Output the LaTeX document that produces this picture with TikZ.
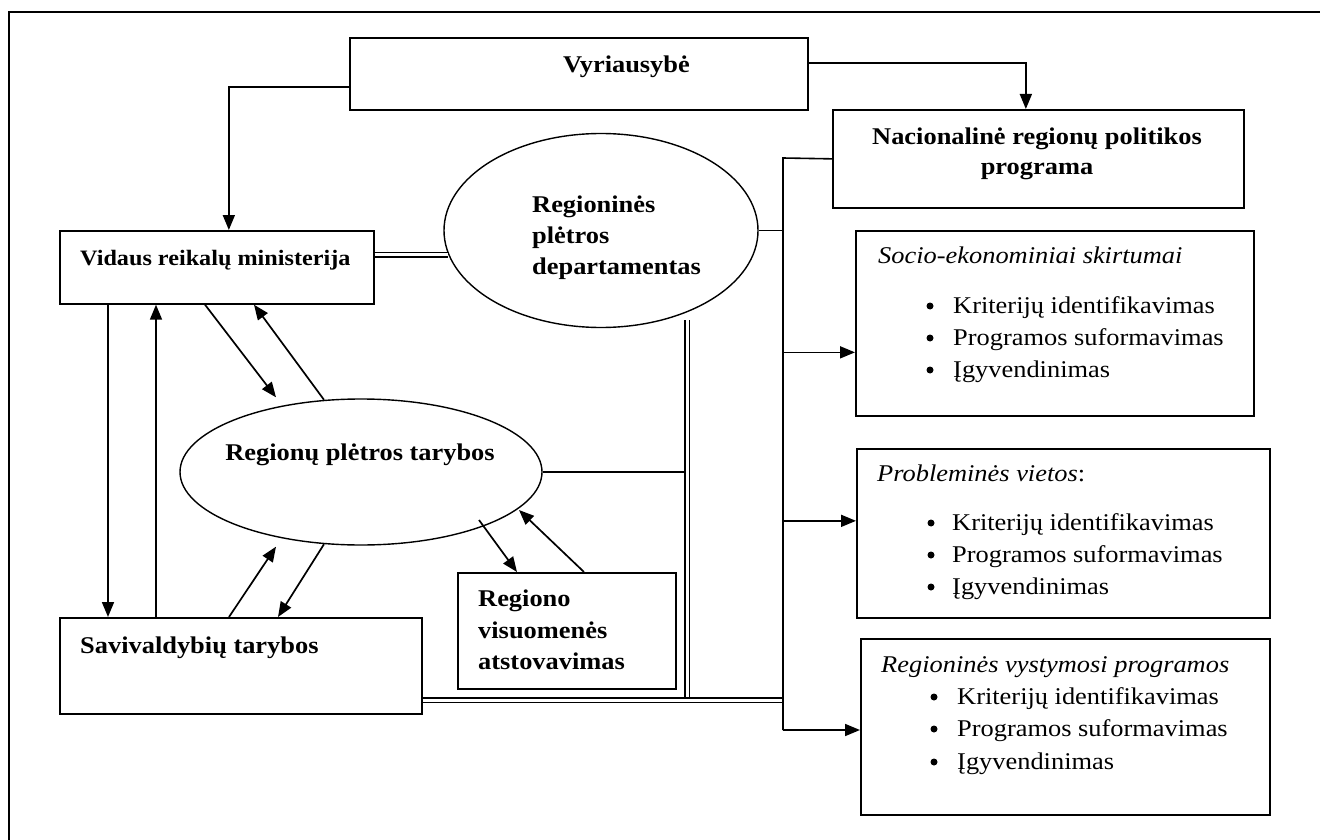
\documentclass[tikz,border=0pt]{standalone}
\usepackage{fontspec}
\setmainfont{Liberation Serif}[FakeStretch=1.1]
\usetikzlibrary{arrows.meta,shapes.geometric}
\newcommand\mytxt{\fontsize{24}{29}\selectfont}
\newcommand\mysmtxt{\fontsize{22}{27}\selectfont}
\begin{document}
\begin{tikzpicture}[x=1pt,y=-1pt,
  box/.style={draw,line width=1.7pt,inner sep=0pt,anchor=north west},
  oval/.style={draw,ellipse,line width=1.4pt,inner sep=0pt},
  arr/.style={line width=1.7pt,-{Triangle[length=15pt,width=12pt]}},
  ln/.style={line width=1.6pt},
  dbl/.style={double,double distance=3pt,line width=1.4pt},
  btxt/.style={font=\mytxt\bfseries,inner sep=0pt,anchor=base west},
  rtxt/.style={font=\mytxt,inner sep=0pt,anchor=base west},
  itxt/.style={font=\mytxt\itshape,inner sep=0pt,anchor=base west},
  bul/.style={circle,fill,inner sep=0pt,minimum size=7pt}]
\useasboundingbox (0,0) rectangle (1320,840);
% outer frame
\draw[line width=2.4pt] (1320,12) -- (9,12) -- (9,840);

% boxes
\node[box,minimum width=458pt,minimum height=72pt] (vyr) at (349,37) {};
\node[box,minimum width=411pt,minimum height=98pt] (nac) at (832,109) {};
\node[box,minimum width=314pt,minimum height=73pt] (vid) at (59,230) {};
\node[box,minimum width=362pt,minimum height=96pt] (sav) at (59,617) {};
\node[box,minimum width=218pt,minimum height=116pt] (reg) at (457,572) {};
\node[box,minimum width=398pt,minimum height=185pt] (soc) at (855,230) {};
\node[box,minimum width=413pt,minimum height=169pt] (prob) at (856,448) {};
\node[box,minimum width=409pt,minimum height=176pt] (rvp) at (860,638) {};
\node[oval,minimum width=314pt,minimum height=194pt] (dep) at (601,230.5) {};
\node[oval,minimum width=362pt,minimum height=146pt] (tar) at (361,472) {};

% helper coordinates
\coordinate (busT) at (783,158);
\coordinate (busB) at (783,730);
\coordinate (dvT) at (687,320);
\coordinate (hl) at ([yshift=-34.5pt]sav.east);
\coordinate (sa) at ([yshift=-29pt]soc.west);
\coordinate (pa) at ([yshift=12.5pt]prob.west);

% connectors
\draw[arr] ([yshift=-13pt]vyr.west) -| ([xshift=12pt]vid.north);
\draw[arr] ([yshift=11pt]vyr.east) -| ([xshift=-12.5pt]nac.north);
\draw[ln] (tar.east) -- (tar.east -| dvT);
\draw[dbl] (dvT) -- (dvT |- hl);
\draw[dbl] (hl) -- (hl -| busT);
\draw[dbl] (vid.east |- dep.189) -- (dep.189);
\draw[ln] (nac.west) -- (busT) -- (busB);
\draw[arr] (busB) -- (busB -| rvp.west);
\draw[arr] (sa -| busT) -- (sa);
\draw[arr] (pa -| busT) -- (pa);
\draw[ln] (dep.east) -- (dep.east -| busT);

\draw[arr] ([xshift=49pt]vid.south west) -- ([xshift=49pt]sav.north west);
\draw[arr] ([xshift=97pt]sav.north west) -- ([xshift=97pt]vid.south west);
\draw[arr] ([xshift=146pt]vid.south west) -- ([xshift=-85pt,yshift=1pt]tar.north);
\draw[arr] ([xshift=-37pt,yshift=-1.5pt]tar.north) -- ([xshift=195pt]vid.south west);
\draw[arr] ([xshift=170pt]sav.north west) -- ([xshift=-85pt,yshift=-1pt]tar.south);
\draw[arr] ([xshift=-37pt,yshift=1.5pt]tar.south) -- ([xshift=219pt]sav.north west);
\draw[arr] ([xshift=118pt,yshift=-48pt]tar.center) -- ([xshift=60pt]reg.north west);
\draw[arr] ([xshift=127pt]reg.north west) -- ([xshift=158pt,yshift=-38pt]tar.center);

% texts
\node[btxt,anchor=base] (tvyr) at (626.5,73) {Vyriausybė};
\node[btxt,anchor=base] (tnac1) at (1037,145) {Nacionalinė regionų politikos};
\node[btxt,anchor=base] (tnac2) at (1037,175) {programa};
\node[btxt,font=\mysmtxt\bfseries] (tvid) at (80,265) {Vidaus reikalų ministerija};
\node[btxt] (tdep1) at (532,212) {Regioninės};
\node[btxt] (tdep2) at (532,243) {plėtros};
\node[btxt] (tdep3) at (532,274) {departamentas};
\node[btxt,anchor=base] (ttar) at (360,460) {Regionų plėtros tarybos};
\node[btxt] (treg1) at (478,606) {Regiono};
\node[btxt] (treg2) at (478,638) {visuomenės};
\node[btxt] (treg3) at (478,669) {atstovavimas};
\node[btxt] (tsav) at (80,653) {Savivaldybių tarybos};

\node[itxt] (tsoc) at (878,263) {Socio-ekonominiai skirtumai};
\foreach \y/\t [count=\i] in {313/Kriterijų identifikavimas,345/Programos suformavimas,377/Įgyvendinimas}{
  \node[bul] (sb\i) at (930,\y-7) {};
  \node[rtxt] (st\i) at (953,\y) {\t};
}
\node[rtxt] (tprob) at (877,481) {\textit{Probleminės vietos}:};
\foreach \y/\t [count=\i] in {530/Kriterijų identifikavimas,562/Programos suformavimas,594/Įgyvendinimas}{
  \node[bul] (pb\i) at (931,\y-7) {};
  \node[rtxt] (pt\i) at (952,\y) {\t};
}
\node[itxt] (trvp) at (881,672) {Regioninės vystymosi programos};
\foreach \y/\t [count=\i] in {704/Kriterijų identifikavimas,736/Programos suformavimas,769/Įgyvendinimas}{
  \node[bul] (rb\i) at (934,\y-7) {};
  \node[rtxt] (rt\i) at (957,\y) {\t};
}
\end{tikzpicture}
\end{document}
